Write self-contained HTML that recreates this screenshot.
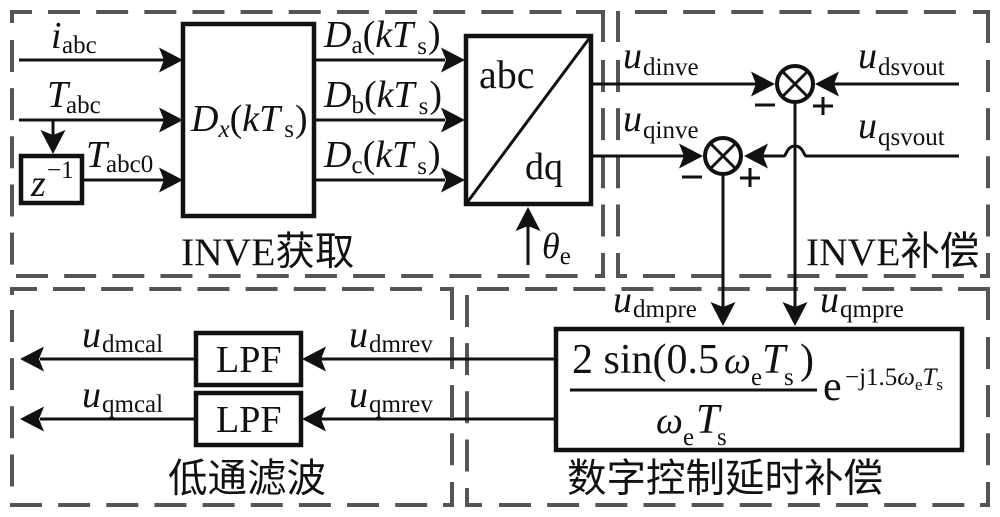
<!DOCTYPE html>
<html><head><meta charset="utf-8"><style>
html,body{margin:0;padding:0;background:#fff;width:1000px;height:517px;overflow:hidden}
svg{display:block}
text{font-family:"Liberation Serif","Noto Serif CJK SC",serif;fill:#111}
.m{font-size:38px}
.i{font-style:italic}
.n{font-style:normal}
.s{font-size:25px;font-style:normal}
.c{font-size:39.500px;font-family:"Liberation Serif","Noto Sans CJK SC",sans-serif}
.d{fill:none;stroke:#555;stroke-width:4}
.p{stroke-dasharray:32 16.150}
.b{fill:none;stroke:#111;stroke-width:4.5}
.l{fill:none;stroke:#111;stroke-width:3}
.a{fill:#111}
</style></head><body>
<svg width="1000" height="517" viewBox="0 0 1000 517" xmlns="http://www.w3.org/2000/svg">
<defs>
<path id="ar" d="M0 0L-24 -12.500L-19 0L-24 12.500Z"/>
</defs>
<!-- dashed box 1 -->
<g class="d">
<path d="M12 23V12H32M576 12H603V42M603 253V276H595"/>
<path class="p" d="M48 12H565M603 60V240M16 276H580M12 40V265"/>
<!-- dashed box 2 -->
<path d="M618 11V42M973 12H988V43M988 253V276H980M627 276H618V253"/>
<path class="p" d="M635 12H960M988 60V240M643 276H970M618 60V240"/>
<!-- dashed box 3 -->
<path d="M12 295V289H37M440 289H452V320M452 482V505H443"/>
<path class="p" d="M53 289H430M452 337V470M10 505H430M12 310V490"/>
<!-- dashed box 4 -->
<path d="M958 289H988V320M988 482V505H980M482 505H467V488"/>
<path class="p" d="M477 289H945M988 337V470M499 505H965M467 295V475"/>
</g>

<!-- boxes -->
<rect class="b" x="183" y="24" width="131" height="192"/>
<rect class="b" x="466" y="36" width="125" height="168"/>
<path d="M466 204L591 36" class="l"/>
<rect class="b" x="21" y="156" width="61" height="47"/>
<rect class="b" x="196" y="333" width="105" height="52"/>
<rect class="b" x="196" y="393" width="105" height="52"/>
<rect class="b" x="556" y="329" width="406" height="121"/>

<!-- left connectors -->
<path class="l" d="M19 60H165M19 120H165M53 120V135M82 180H165M314 60H445M314 120H445M314 180H445"/>
<use href="#ar" class="a" transform="translate(183,60)"/>
<use href="#ar" class="a" transform="translate(183,120)"/>
<use href="#ar" class="a" transform="translate(183,180)"/>
<use href="#ar" class="a" transform="translate(53,154) rotate(90)"/>
<use href="#ar" class="a" transform="translate(465,60)"/>
<use href="#ar" class="a" transform="translate(465,120)"/>
<use href="#ar" class="a" transform="translate(465,180)"/>
<path class="l" d="M528 265V225"/>
<use href="#ar" class="a" transform="translate(528,207) rotate(-90)"/>

<!-- right connectors -->
<path class="l" d="M592 84H760M592 156H688"/>
<use href="#ar" class="a" transform="translate(775,84)"/>
<use href="#ar" class="a" transform="translate(703,156)"/>
<path class="l" d="M959 84H830"/>
<use href="#ar" class="a" transform="translate(815,84) rotate(180)"/>
<path class="l" d="M959 156H806C804 156 803 146 795 146C787 146 786 156 784 156H760"/>
<use href="#ar" class="a" transform="translate(744,156) rotate(180)"/>
<circle cx="795" cy="84" r="18" fill="#fff" stroke="#111" stroke-width="4"/>
<path class="l" d="M782.500 71.500L807.500 96.500M807.500 71.500L782.500 96.500"/>
<circle cx="723" cy="156" r="18" fill="#fff" stroke="#111" stroke-width="4"/>
<path class="l" d="M710.500 143.500L735.500 168.500M735.500 143.500L710.500 168.500"/>
<path class="l" d="M795 102V310M723 174V310"/>
<use href="#ar" class="a" transform="translate(723,326) rotate(90)"/>
<use href="#ar" class="a" transform="translate(795,326) rotate(90)"/>
<path d="M755 105H775M813 106H833M823 97V115M682 177H702M740 178H760M750 168V187" fill="none" stroke="#111" stroke-width="3"/>

<!-- bottom connectors -->
<path class="l" d="M556 359H320M556 419H320M195 359H40M195 419H40"/>
<use href="#ar" class="a" transform="translate(302,359) rotate(180)"/>
<use href="#ar" class="a" transform="translate(302,419) rotate(180)"/>
<use href="#ar" class="a" transform="translate(20,359) rotate(180)"/>
<use href="#ar" class="a" transform="translate(20,419) rotate(180)"/>

<!-- labels left -->
<text x="51" y="48" class="m i">i<tspan class="s" x="62" y="53">abc</tspan></text>
<text x="47" y="107" class="m i">T<tspan class="s" x="66" y="113">abc</tspan></text>
<text x="86" y="167" class="m i">T<tspan class="s" x="106" y="172">abc0</tspan></text>
<text x="31" y="196" class="i" font-size="38">z</text>
<text x="47" y="178" font-size="25">−1</text>
<text x="191" y="131" class="m i">D<tspan font-size="25" dy="6">x</tspan><tspan dy="-6" class="n">(</tspan>kT<tspan class="s" dy="6" dx="4">s</tspan><tspan dy="-6" dx="1" class="n">)</tspan></text>
<text x="324" y="47" class="m i">D<tspan class="s" dy="6">a</tspan><tspan dy="-6" class="n">(</tspan>kT<tspan class="s" dy="7" dx="4">s</tspan><tspan dy="-7" dx="1" class="n">)</tspan></text>
<text x="324" y="107" class="m i">D<tspan class="s" dy="6">b</tspan><tspan dy="-6" class="n">(</tspan>kT<tspan class="s" dy="7" dx="4">s</tspan><tspan dy="-7" dx="1" class="n">)</tspan></text>
<text x="324" y="167" class="m i">D<tspan class="s" dy="6">c</tspan><tspan dy="-6" class="n">(</tspan>kT<tspan class="s" dy="7" dx="4">s</tspan><tspan dy="-7" dx="1" class="n">)</tspan></text>
<text x="479" y="88" font-size="40">abc</text>
<text x="525" y="179" font-size="38">dq</text>
<text x="542" y="258" class="i" font-size="36">θ<tspan class="s" dy="6">e</tspan></text>
<text x="181" y="265" class="c">INVE获取</text>

<!-- labels right -->
<text x="623" y="68" class="m i">u<tspan class="s" x="643" y="75">dinve</tspan></text>
<text x="623" y="131" class="m i">u<tspan class="s" x="643" y="138">qinve</tspan></text>
<text x="858" y="68" class="m i">u<tspan class="s" x="878" y="75">dsvout</tspan></text>
<text x="858" y="138" class="m i">u<tspan class="s" x="878" y="145">qsvout</tspan></text>
<text x="806" y="265" class="c">INVE补偿</text>

<!-- labels bottom -->
<text x="82" y="347" class="m i">u<tspan class="s" dy="5" dx="1">dmcal</tspan></text>
<text x="82" y="407" class="m i">u<tspan class="s" dy="5" dx="1">qmcal</tspan></text>
<text x="349" y="347" class="m i">u<tspan class="s" dy="5" dx="1">dmrev</tspan></text>
<text x="349" y="407" class="m i">u<tspan class="s" dy="5" dx="1">qmrev</tspan></text>
<text x="216" y="372" font-size="38">LPF</text>
<text x="216" y="432" font-size="38">LPF</text>
<text x="168" y="492" class="c">低通滤波</text>
<text x="613" y="312" class="m i">u<tspan class="s" dy="5" dx="1">dmpre</tspan></text>
<text x="820" y="312" class="m i">u<tspan class="s" dy="5" dx="1">qmpre</tspan></text>

<!-- formula -->
<text x="572" y="373" font-size="42">2 sin(0.5<tspan class="i" x="724" font-size="38">ω</tspan><tspan font-size="25" x="751" y="385">e</tspan><tspan class="i" x="762" y="373">T</tspan><tspan font-size="25" x="784" y="385">s</tspan><tspan x="800" y="373">)</tspan></text>
<path d="M570 390H817" fill="none" stroke="#111" stroke-width="3"/>
<text y="433" font-size="42"><tspan class="i" x="656" font-size="38">ω</tspan><tspan font-size="25" x="683" y="445">e</tspan><tspan class="i" x="696" y="433">T</tspan><tspan font-size="25" x="717" y="445">s</tspan></text>
<text x="823" y="400" font-size="42">e</text>
<text x="845" y="385" font-size="25">−j1.5<tspan class="i">ω</tspan><tspan font-size="17" dy="5">e</tspan><tspan class="i" dy="-5">T</tspan><tspan font-size="17" dy="5">s</tspan></text>
<text x="567" y="492" class="c">数字控制延时补偿</text>
</svg>
</body></html>
